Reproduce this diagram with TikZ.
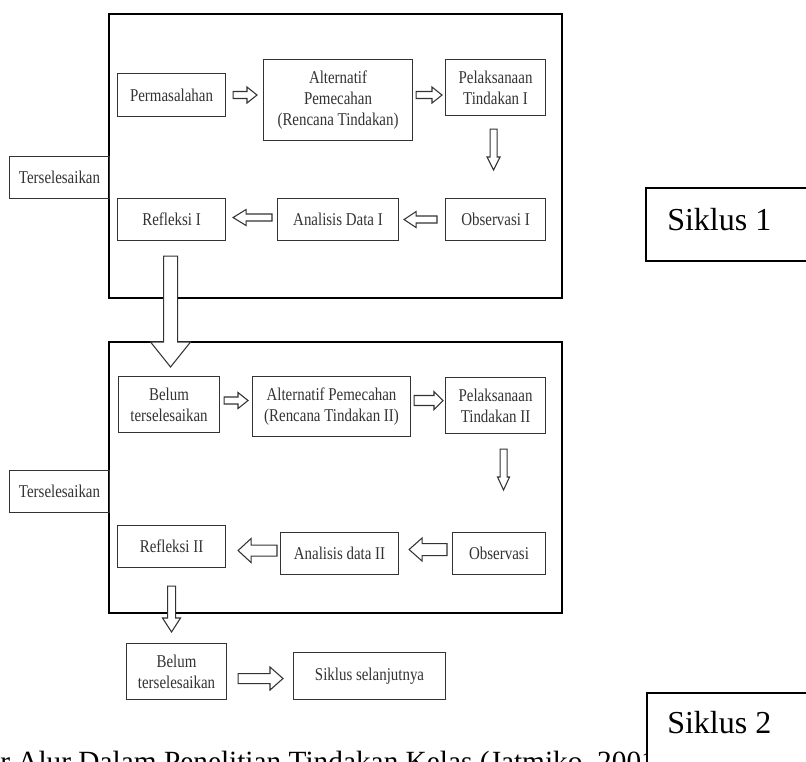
\documentclass[tikz,border=0pt]{standalone}
\usepackage{fontspec}
\setmainfont{Liberation Serif}
\newfontfamily\scanfont{Liberation Serif}[FakeStretch=0.83]
\usetikzlibrary{calc}

% hollow block arrow: shaft half width, head half width, head length (px), from, to
\newcommand{\hollowarrow}[5]{%
  \coordinate (ha-s) at (#4);
  \coordinate (ha-e) at (#5);
  \coordinate (ha-b) at ($(ha-e)!#3*0.75pt!(ha-s)$);
  \draw[arrowline] ($(ha-s)!#1*0.75pt!90:(ha-e)$) -- ($(ha-b)!#1*0.75pt!90:(ha-e)$)
    -- ($(ha-b)!#2*0.75pt!90:(ha-e)$) -- (ha-e)
    -- ($(ha-b)!#2*0.75pt!-90:(ha-e)$) -- ($(ha-b)!#1*0.75pt!-90:(ha-e)$)
    -- ($(ha-s)!#1*0.75pt!-90:(ha-e)$) -- cycle;
}

\tikzset{
  wh/.style 2 args={minimum width=#1*0.75pt, minimum height=#2*0.75pt},
  stage/.style={draw=black!80, line width=0.8pt, text=black!80, inner sep=0pt,
    align=center, anchor=north west, font=\scanfont\fontsize{13.5}{16}\selectfont},
  frame/.style={line width=2.2pt},
  arrowline/.style={draw=black!80, line width=0.8pt, fill=white},
  cyclebox/.style={draw, line width=1.1pt, fill=white},
  bigtext/.style={anchor=base west, inner sep=0pt},
}

\begin{document}
\begin{tikzpicture}[x=0.75pt, y=-0.75pt]
\useasboundingbox (0,0) rectangle (806,762);
\fill[white] (0,0) rectangle (806,762);
\clip (0,0) rectangle (806,762);

% first cycle
\draw[frame] (109,14) rectangle (562,298);
\node[stage, wh={108}{43}] (perm) at (117,73) {Permasalahan};
\node[stage, wh={149}{81}] (alt1) at (263,59) {Alternatif\\Pemecahan\\(Rencana Tindakan)};
\node[stage, wh={100}{56}] (pel1) at (445,59) {Pelaksanaan\\Tindakan I};
\node[stage, wh={100}{42}] (obs1) at (445,198) {Observasi I};
\node[stage, wh={121}{42}] (ana1) at (277,198) {Analisis Data I};
\node[stage, wh={108}{42}] (ref1) at (117,198) {Refleksi I};
\node[stage, wh={100}{42}] (done1) at (9,156) {Terselesaikan};

\hollowarrow{3.5}{8}{10}{$(perm.east)+(7,0)$}{$(alt1.west |- perm.east)+(-6,0)$}
\hollowarrow{3.5}{8}{10}{$(alt1.east |- perm.east)+(3,0)$}{$(pel1.west |- perm.east)+(-3,0)$}
\hollowarrow{3.5}{6.5}{13}{$(pel1.south)+(-2,13)$}{$(pel1.south |- obs1.north)+(-2,-28)$}
\hollowarrow{3.5}{8}{12}{$(obs1.west)+(-8,0)$}{$(ana1.east)+(5,0)$}
\hollowarrow{3.5}{8}{13}{$(ana1.west)+(-5,-2)$}{$(ref1.east)+(7,-2)$}

% second cycle
\draw[frame] (109,342) rectangle (562,613);
\node[stage, wh={101}{56}] (bel2) at (118,376) {Belum\\terselesaikan};
\node[stage, wh={158}{60}] (alt2) at (252,376) {Alternatif Pemecahan\\(Rencana Tindakan II)};
\node[stage, wh={100}{56}] (pel2) at (445,377) {Pelaksanaan\\Tindakan II};
\node[stage, wh={93}{42}] (obs2) at (452,532) {Observasi};
\node[stage, wh={118}{42}] (ana2) at (280,532) {Analisis data II};
\node[stage, wh={108}{42}] (ref2) at (117,525) {Refleksi II};
\node[stage, wh={100}{42}] (done2) at (9,470) {Terselesaikan};

\hollowarrow{7}{20}{25}{$(ref1.south)+(-1,15)$}{$(ref1.south |- bel2.north)+(-1,-9)$}
\hollowarrow{3.5}{8}{10}{$(bel2.east)+(4,-4)$}{$(alt2.west |- bel2.east)+(-4,-4)$}
\hollowarrow{5}{9}{9}{$(alt2.east)+(3,-6)$}{$(pel2.west |- alt2.east)+(-2,-6)$}
\hollowarrow{3.5}{6}{13}{$(pel2.south)+(8,15)$}{$(pel2.south |- obs2.north)+(8,-42)$}
\hollowarrow{6}{11.5}{13}{$(obs2.west)+(-5,-4)$}{$(ana2.east)+(10,-4)$}
\hollowarrow{5.5}{12}{13}{$(ana2.west)+(-3,-3)$}{$(ref2.east |- ana2.west)+(12,-3)$}

% next cycle
\node[stage, wh={100}{56}] (bel3) at (126,643) {Belum\\terselesaikan};
\node[stage, wh={152}{47}] (next) at (293,652) {Siklus selanjutnya};
\hollowarrow{4}{9}{14}{$(ref2.south)+(0,18)$}{$(ref2.south |- bel3.north)+(0,-11)$}
\hollowarrow{5}{11.5}{13}{$(bel3.east)+(11,7)$}{$(next.west |- bel3.east)+(-10,7)$}

% caption and cycle labels
\node[bigtext, font=\fontsize{22}{26}\selectfont] (cap) at (0,771) {r Alur Dalam Penelitian Tindakan Kelas (Jatmiko, 2001};
\draw[cyclebox] (646,188) rectangle (830,261);
\node[bigtext, font=\fontsize{24}{28}\selectfont] (sik1) at (667,231) {Siklus 1};
\draw[cyclebox] (647,693) rectangle (830,800);
\node[bigtext, font=\fontsize{24}{28}\selectfont] (sik2) at (667,733) {Siklus 2};
\end{tikzpicture}
\end{document}
